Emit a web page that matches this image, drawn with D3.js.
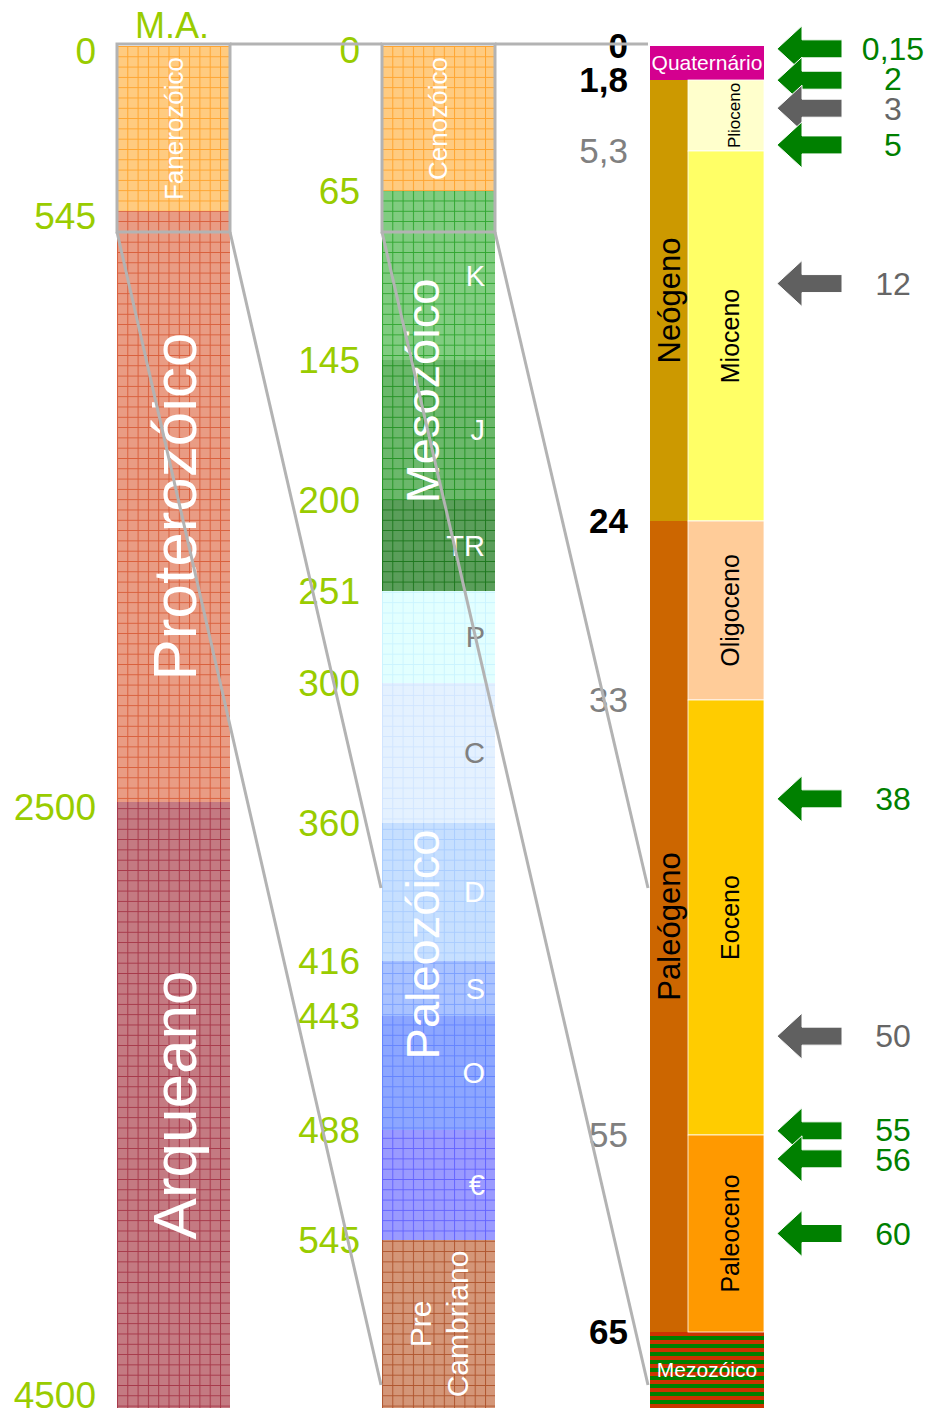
<!DOCTYPE html>
<html>
<head>
<meta charset="utf-8">
<script src="https://cdn.jsdelivr.net/npm/d3@7"></script>
<style>
  body { margin: 0; background: #fff; }
  svg { display: block; font-family: "Liberation Sans", Arial, sans-serif; }
</style>
</head>
<body>
<div id="chart"></div>
<script>
// column 1: eons (M.A.)
const eonNames = ["Fanerozóico", "Proterozóico", "Arqueano"];
const eonTicks = [0, 545, 2500, 4500];

// column 2: Phanerozoic periods
const periodNames = ["Cenozóico", "K", "J", "TR", "P", "C", "D", "S", "O", "€", "Pre Cambriano"];
const periodTicks = [0, 65, 145, 200, 251, 300, 360, 416, 443, 488, 545, 4500];
const periodLabels = ["0", "65", "145", "200", "251", "300", "360", "416", "443", "488", "545"];
const eraNames = ["Mesozóico", "Paleozóico"];
const eraSpans = [[65, 251], [251, 545]];

// column 3: Cenozoic
const cenoPeriods = ["Quaternário", "Neógeno", "Paleógeno", "Mezozóico"];
const cenoPeriodTicks = [0, 1.8, 24, 65, 251];
const epochNames = ["Plioceno", "Mioceno", "Oligoceno", "Eoceno", "Paleoceno"];
const epochTicks = [1.8, 5.3, 24, 33, 55, 65];
const cenoTicks = [0, 1.8, 5.3, 24, 33, 55, 65];

// events (arrows)
const eventAges = [0.15, 2, 3, 5, 12, 38, 50, 55, 56, 60];
const eventGroup = ["verde", "verde", "cinza", "verde", "cinza", "verde", "cinza", "verde", "verde", "verde"];

const W = 926, H = 1414;
const lime = "#99CC00", lineGray = "#B3B3B3";

const fills = {
  "Fanerozóico": ["#FFCB80", "#FF9A1A"],
  "Proterozóico": ["#E99C84", "#D5502A"],
  "Arqueano": ["#C47A82", "#A0283A"],
  "Cenozóico": ["#FFCB80", "#FF9A1A"],
  "K": ["#80CC80", "#1E9E1E"],
  "J": ["#6BB86B", "#138A13"],
  "TR": ["#5A9E5A", "#0E6E0E"],
  "P": ["#E2FFFF", "#C6F2FF"],
  "C": ["#E4F1FF", "#CCE2FF"],
  "D": ["#C6DFFF", "#A2C8FF"],
  "S": ["#A9C2FF", "#7099FF"],
  "O": ["#8CA6FF", "#5A7CFF"],
  "€": ["#9A9AFF", "#5656FF"],
  "Pre Cambriano": ["#D49678", "#A8461C"]
};
const cenoColors = {
  "Quaternário": "#D4008F", "Neógeno": "#CC9900", "Paleógeno": "#CC6600",
  "Plioceno": "#FFFFCC", "Mioceno": "#FFFF66", "Oligoceno": "#FFCC99",
  "Eoceno": "#FFCC00", "Paleoceno": "#FF9900"
};
const darkLetters = ["P", "C"];

const col1 = {x0: 117, x1: 230};
const col2 = {x0: 382, x1: 495};
const col3 = {x0: 650, xm: 688, x1: 764};

const fmt = d3.formatLocale({decimal: ",", thousands: ".", grouping: [3], currency: ["", ""]}).format("~f");

const y1 = d3.scaleLinear().domain(eonTicks).range([46, 211, 802, 1408]);
const y2 = d3.scaleLinear().domain(periodTicks)
  .range([46, 191, 360, 500, 591, 683, 823, 961, 1016, 1130, 1240, 1408]);
const y3 = d3.scaleLinear().domain([0, 1.8, 5.3, 24, 33, 55, 65, 251])
  .range([46, 80, 151, 521, 700, 1135, 1332, 1408]);

const svg = d3.select("#chart").append("svg")
  .attr("width", W).attr("height", H);

// grid patterns
const defs = svg.append("defs");
function gridPattern(name, x0) {
  const id = "pat" + Object.keys(fills).indexOf(name);
  const p = defs.append("pattern").attr("id", id)
    .attr("patternUnits", "userSpaceOnUse")
    .attr("x", x0).attr("y", 46)
    .attr("width", 10.3).attr("height", 10.3);
  p.append("rect").attr("width", 10.3).attr("height", 10.3).attr("fill", fills[name][0]);
  p.append("path").attr("d", "M0,0.5H10.3M0.5,0V10.3")
    .attr("stroke", fills[name][1]).attr("stroke-width", 1).attr("opacity", 0.8);
  return "url(#" + id + ")";
}
const stripes = defs.append("pattern").attr("id", "stripes")
  .attr("patternUnits", "userSpaceOnUse").attr("y", 1332)
  .attr("width", 8).attr("height", 8);
stripes.append("rect").attr("width", 8).attr("height", 4).attr("fill", "#CC3300");
stripes.append("rect").attr("y", 4).attr("width", 8).attr("height", 4).attr("fill", "#008000");

function vText(g, x, y, txt, size, color, weight) {
  return g.append("text")
    .attr("transform", `translate(${x},${y}) rotate(-90)`)
    .attr("text-anchor", "middle").attr("dy", "0.35em")
    .attr("font-size", size).attr("fill", color)
    .attr("font-weight", weight || "normal")
    .text(txt);
}

// spread crowded labels symmetrically
function relax(ys, gap) {
  const out = ys.slice();
  for (let k = 0; k < 60; k++) {
    for (let i = 1; i < out.length; i++) {
      const d = out[i] - out[i - 1];
      if (d < gap) {
        const s = (gap - d) / 2;
        out[i - 1] -= s;
        out[i] += s;
      }
    }
  }
  return out;
}

// ---- column 1
const g1 = svg.append("g");
g1.selectAll("rect").data(eonNames).join("rect")
  .attr("x", col1.x0).attr("width", col1.x1 - col1.x0)
  .attr("y", (d, i) => y1(eonTicks[i]))
  .attr("height", (d, i) => y1(eonTicks[i + 1]) - y1(eonTicks[i]))
  .attr("fill", d => gridPattern(d, col1.x0));
const eonSizes = [26, 62, 62];
eonNames.forEach((d, i) => {
  vText(g1, 174, (y1(eonTicks[i]) + y1(eonTicks[i + 1])) / 2, d, eonSizes[i], "#fff");
});
g1.selectAll("text.tick").data(eonTicks).join("text").attr("class", "tick")
  .attr("x", 96).attr("y", d => Math.min(y1(d) + 5, 1395))
  .attr("dy", "0.35em").attr("text-anchor", "end")
  .attr("font-size", 37).attr("fill", lime).text(d => fmt(d));
svg.append("text").attr("x", 172).attr("y", 38).attr("text-anchor", "middle")
  .attr("font-size", 36).attr("fill", lime).text("M.A.");

// ---- column 2
const g2 = svg.append("g");
g2.selectAll("rect").data(periodNames).join("rect")
  .attr("x", col2.x0).attr("width", col2.x1 - col2.x0)
  .attr("y", (d, i) => y2(periodTicks[i]))
  .attr("height", (d, i) => y2(periodTicks[i + 1]) - y2(periodTicks[i]))
  .attr("fill", d => gridPattern(d, col2.x0));
periodNames.forEach((d, i) => {
  const yc = (y2(periodTicks[i]) + y2(periodTicks[i + 1])) / 2;
  if (d === "Cenozóico") {
    vText(g2, 438, yc, d, 26, "#fff");
  } else if (d === "Pre Cambriano") {
    const parts = d.split(" ");
    vText(g2, 420, yc, parts[0], 30, "#fff");
    vText(g2, 457, yc, parts[1], 30, "#fff");
  } else {
    g2.append("text").attr("x", 485).attr("y", yc).attr("dy", "0.35em")
      .attr("text-anchor", "end").attr("font-size", 29)
      .attr("fill", darkLetters.includes(d) ? "#808080" : "#fff").text(d);
  }
});
const eraShift = [0, 29];
eraNames.forEach((d, i) => {
  vText(g2, 423, (y2(eraSpans[i][0]) + y2(eraSpans[i][1])) / 2 + eraShift[i], d, 47, "#fff");
});
g2.selectAll("text.tick").data(periodLabels).join("text").attr("class", "tick")
  .attr("x", 360).attr("y", (d, i) => Math.max(y2(periodTicks[i]), 50))
  .attr("dy", "0.35em").attr("text-anchor", "end")
  .attr("font-size", 37).attr("fill", lime).text(d => d);

// ---- column 3
const g3 = svg.append("g");
cenoPeriods.forEach((d, i) => {
  const top = y3(cenoPeriodTicks[i]), bot = y3(cenoPeriodTicks[i + 1]);
  const full = d === "Quaternário" || d === "Mezozóico";
  g3.append("rect").attr("x", col3.x0).attr("y", top)
    .attr("width", (full ? col3.x1 : col3.xm) - col3.x0).attr("height", bot - top)
    .attr("fill", d === "Mezozóico" ? "url(#stripes)" : cenoColors[d]);
  if (full) {
    g3.append("text").attr("x", (col3.x0 + col3.x1) / 2).attr("y", (top + bot) / 2)
      .attr("dy", "0.35em").attr("text-anchor", "middle")
      .attr("font-size", 21).attr("fill", "#fff").text(d);
  }
});
epochNames.forEach((d, i) => {
  const top = y3(epochTicks[i]), bot = y3(epochTicks[i + 1]);
  g3.append("rect").attr("x", col3.xm).attr("y", top)
    .attr("width", col3.x1 - col3.xm).attr("height", bot - top)
    .attr("fill", cenoColors[d]).attr("stroke", "#fff").attr("stroke-width", 0.8);
});
cenoPeriods.slice(1, 3).forEach((d, i) => {
  const yc = (y3(cenoPeriodTicks[i + 1]) + y3(cenoPeriodTicks[i + 2])) / 2;
  vText(g3, 669, yc, d, 31, "#000");
});
epochNames.forEach((d, i) => {
  const yc = (y3(epochTicks[i]) + y3(epochTicks[i + 1])) / 2;
  if (d === "Plioceno") vText(g3, 734, yc, d, 17, "#000");
  else vText(g3, 730, yc, d, 25, "#000");
});
const cenoTickY = relax(cenoTicks.map(d => y3(d)), 32);
g3.selectAll("text.tick").data(cenoTicks).join("text").attr("class", "tick")
  .attr("x", 628).attr("y", (d, i) => cenoTickY[i])
  .attr("dy", "0.35em").attr("text-anchor", "end")
  .attr("font-size", 35)
  .attr("font-weight", d => cenoPeriodTicks.includes(d) ? "bold" : "normal")
  .attr("fill", d => cenoPeriodTicks.includes(d) ? "#000" : "#808080")
  .text(d => fmt(d));

// ---- zoom boxes and connectors
const boxBottom = 232, lineTop = 44;
const gl = svg.append("g").attr("fill", "none").attr("stroke", lineGray).attr("stroke-width", 3);
[col1, col2].forEach(c => {
  gl.append("rect").attr("x", c.x0).attr("y", lineTop)
    .attr("width", c.x1 - c.x0).attr("height", boxBottom - lineTop);
});
gl.append("line").attr("x1", col1.x1).attr("x2", col2.x0).attr("y1", lineTop).attr("y2", lineTop);
gl.append("line").attr("x1", col2.x1).attr("x2", col3.x0 - 2).attr("y1", lineTop).attr("y2", lineTop);
const connectors = [
  [col1.x0, col2.x0 - 1, 1385], [col1.x1, col2.x0 - 1, 888],
  [col2.x0, col3.x0 - 2, 1385], [col2.x1, col3.x0 - 2, 888]
];
connectors.forEach(([xa, xb, yb]) => {
  gl.append("line").attr("x1", xa).attr("y1", boxBottom).attr("x2", xb).attr("y2", yb);
});

// ---- arrows
const ga = svg.append("g");
const arrowColor = {verde: "#008000", cinza: "#606060"};
const labelColor = {verde: "#008000", cinza: "#666666"};
const arrowY = relax(eventAges.map(a => y3(a)), 28);
eventAges.forEach((a, i) => {
  const y = arrowY[i];
  ga.append("path")
    .attr("d", `M777,${y}L802,${y - 23}V${y - 9}H842V${y + 9}H802V${y + 23}Z`)
    .attr("fill", arrowColor[eventGroup[i]])
    .attr("stroke", "#fff").attr("stroke-width", 1);
});
const labelY = relax(eventAges.map(a => y3(a)), 30);
eventAges.forEach((a, i) => {
  ga.append("text").attr("x", 893).attr("y", labelY[i]).attr("dy", "0.35em")
    .attr("text-anchor", "middle").attr("font-size", 32)
    .attr("fill", labelColor[eventGroup[i]]).text(fmt(a));
});
</script>
</body>
</html>
